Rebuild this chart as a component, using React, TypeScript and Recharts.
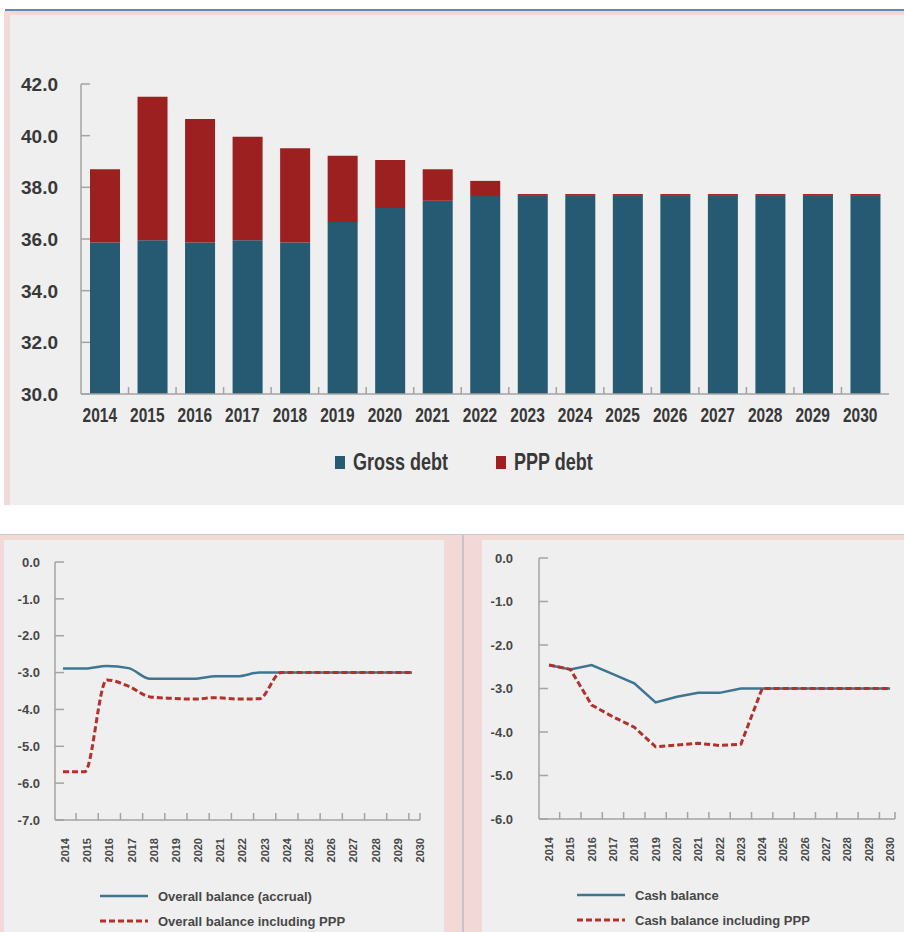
import React from 'react';
import { BarChart, Bar, XAxis, YAxis, LineChart, Line, Legend } from 'recharts';

const years = [2014, 2015, 2016, 2017, 2018, 2019, 2020, 2021, 2022, 2023, 2024, 2025, 2026, 2027, 2028, 2029, 2030];
const grossDebt = [35.86, 35.95, 35.86, 35.95, 35.86, 36.66, 37.2, 37.48, 37.66, 37.67, 37.67, 37.67, 37.67, 37.67, 37.67, 37.67, 37.67];
const pppDebt = [2.84, 5.56, 4.79, 4.01, 3.65, 2.56, 1.86, 1.22, 0.59, 0.07, 0.07, 0.07, 0.07, 0.07, 0.07, 0.07, 0.07];
const debtTicks = [30, 32, 34, 36, 38, 40, 42];

const overallAccrual = [-2.89, -2.89, -2.82, -2.88, -3.17, -3.17, -3.17, -3.1, -3.1, -3.0, -3.0, -3.0, -3.0, -3.0, -3.0, -3.0, -3.0];
const overallInclPpp = [-5.69, -5.69, -3.2, -3.37, -3.66, -3.7, -3.72, -3.68, -3.72, -3.71, -3.0, -3.0, -3.0, -3.0, -3.0, -3.0, -3.0];
const overallTicks = [0, -1, -2, -3, -4, -5, -6, -7];

const cashBalance = [-2.46, -2.56, -2.46, -2.67, -2.88, -3.32, -3.19, -3.1, -3.1, -3.0, -3.0, -3.0, -3.0, -3.0, -3.0, -3.0, -3.0];
const cashInclPpp = [-2.46, -2.56, -3.38, -3.65, -3.89, -4.34, -4.3, -4.26, -4.31, -4.28, -3.0, -3.0, -3.0, -3.0, -3.0, -3.0, -3.0];
const cashTicks = [0, -1, -2, -3, -4, -5, -6];

// tick-mark positions between year labels (Excel style)
const betweenYears = years.slice(0, -1).map((y) => y + 0.5);

const debtData = years.map((year, i) => ({ year, gross: grossDebt[i], ppp: pppDebt[i] }));
const overallData = years.map((year, i) => ({ year, accrual: overallAccrual[i], incl: overallInclPpp[i] }));
const cashData = years.map((year, i) => ({ year, cash: cashBalance[i], incl: cashInclPpp[i] }));

const FONT = '"Liberation Sans", Arial, Helvetica, sans-serif';
const GROSS = '#255a72';
const PPP = '#9c2020';
const LINE_BLUE = '#3e7592';
const LINE_RED = '#b3312d';
const BG = '#efefef';
const PINK = '#f3d8d8';
const AXIS = '#a3a3a3';
const TEXT_TOP = '#383838';
const TEXT_BOT = '#474747';

const LEFT_LAB_DOMAIN: [number, number] = [2013.55, 2030];
const LEFT_LINE_DOMAIN: [number, number] = [2013.633, 2030.367];
const RIGHT_DOMAIN: [number, number] = [2013.53, 2030.23];

function makeYTick(margin: number, fontSize: number, color: string, markLen: number) {
  return (props: any) => {
    const { x, y, payload } = props;
    return (
      <g>
        <text x={x} y={y} dy="0.36em" textAnchor="end" fontFamily={FONT} fontWeight="bold" fontSize={fontSize} fill={color}>
          {Number(payload.value).toFixed(1)}
        </text>
        <line x1={x + margin} x2={x + margin + markLen} y1={y} y2={y} stroke={AXIS} strokeWidth={1.5} />
      </g>
    );
  };
}

function makeTopXTick(margin: number, marks: number[]) {
  return (props: any) => {
    const { x, y, payload } = props;
    const v = payload.value;
    const axisY = y - margin;
    return (
      <g>
        {marks.includes(v) && <line x1={x} x2={x} y1={axisY} y2={axisY - 7} stroke={AXIS} strokeWidth={1.5} />}
        {years.includes(v) && (
          <text
            transform={`translate(${x - 5},${y}) scale(1,1.35)`}
            dy="0.72em"
            textAnchor="middle"
            fontFamily={FONT}
            fontWeight="bold"
            fontSize={15.5}
            fill={TEXT_TOP}
          >
            {v}
          </text>
        )}
      </g>
    );
  };
}

function makeRotXTick(margin: number, marks: number[]) {
  return (props: any) => {
    const { x, y, payload } = props;
    const v = payload.value;
    const axisY = y - margin;
    return (
      <g>
        {marks.includes(v) && <line x1={x} x2={x} y1={axisY} y2={axisY - 7} stroke={AXIS} strokeWidth={1.5} />}
        {years.includes(v) && (
          <text
            transform={`translate(${x},${y}) rotate(-90)`}
            dy="0.36em"
            textAnchor="end"
            fontFamily={FONT}
            fontWeight="bold"
            fontSize={11}
            fill={TEXT_BOT}
          >
            {v}
          </text>
        )}
      </g>
    );
  };
}

const topLegend = (props: any) => {
  const payload = props.payload || [];
  return (
    <div style={{ display: 'flex', alignItems: 'center', fontFamily: FONT, fontWeight: 'bold', fontSize: 18, color: TEXT_TOP }}>
      {payload.map((entry: any, i: number) => (
        <div key={i} style={{ display: 'flex', alignItems: 'center', marginLeft: i === 0 ? 0 : 48 }}>
          <span style={{ display: 'inline-block', width: 10, height: 13, background: entry.color }} />
          <span style={{ display: 'inline-block', marginLeft: 8, transform: 'scaleY(1.3)', lineHeight: '20px' }}>{entry.value}</span>
        </div>
      ))}
    </div>
  );
};

const lineLegend = (props: any) => {
  const payload = props.payload || [];
  return (
    <div style={{ fontFamily: FONT, fontWeight: 'bold', fontSize: 13, color: TEXT_BOT }}>
      {payload.map((entry: any, i: number) => {
        const dashed = entry.payload && entry.payload.strokeDasharray;
        return (
          <div key={i} style={{ display: 'flex', alignItems: 'center', height: 18, marginTop: i === 0 ? 0 : 7 }}>
            <svg width={48} height={6} style={{ display: 'block' }}>
              <line x1={0} x2={48} y1={3} y2={3} stroke={entry.color} strokeWidth={dashed ? 3 : 2.5} strokeDasharray={dashed ? '6 3' : undefined} />
            </svg>
            <span style={{ marginLeft: 10, whiteSpace: 'nowrap' }}>{entry.value}</span>
          </div>
        );
      })}
    </div>
  );
};

export default function App() {
  const box = (left: number, top: number, width: number, height: number, background: string) => (
    <div style={{ position: 'absolute', left, top, width, height, background }} />
  );
  return (
    <div style={{ position: 'absolute', left: 0, top: 0, width: 904, height: 932, background: '#ffffff', overflow: 'hidden', fontFamily: FONT }}>
      {/* top panel frame */}
      {box(5, 9, 899, 2, '#5b87c2')}
      {box(4, 11, 900, 4, PINK)}
      {box(4, 11, 6, 494, PINK)}
      {box(10, 15, 894, 490, BG)}

      {/* bottom panels frame */}
      {box(0, 534, 904, 1, '#c9c9c9')}
      {box(0, 535, 904, 5, PINK)}
      {box(0, 535, 4, 397, PINK)}
      {box(4, 540, 440, 392, BG)}
      {box(444, 535, 18, 397, PINK)}
      {box(462, 535, 2, 397, '#c4c4c4')}
      {box(464, 535, 18, 397, PINK)}
      {box(482, 540, 422, 392, BG)}

      <div style={{ position: 'absolute', left: 0, top: 0 }}>
        <BarChart width={904} height={505} data={debtData} margin={{ top: 84, right: 15, bottom: 0, left: 0 }}>
          <XAxis
            type="number"
            dataKey="year"
            domain={[2013.5, 2030.5]}
            ticks={[...years, ...betweenYears]}
            interval={0}
            allowDataOverflow
            tickLine={false}
            tickSize={0}
            tickMargin={13}
            height={111}
            axisLine={{ stroke: AXIS, strokeWidth: 1.5 }}
            tick={makeTopXTick(13, betweenYears)}
          />
          <YAxis
            domain={[30, 42]}
            ticks={debtTicks}
            interval={0}
            allowDataOverflow
            width={81}
            tickLine={false}
            tickSize={0}
            tickMargin={23}
            axisLine={{ stroke: AXIS, strokeWidth: 1.5 }}
            tick={makeYTick(23, 19, TEXT_TOP, 9)}
          />
          <Bar dataKey="gross" name="Gross debt" stackId="d" fill={GROSS} barSize={30} isAnimationActive={false} />
          <Bar dataKey="ppp" name="PPP debt" stackId="d" fill={PPP} barSize={30} isAnimationActive={false} />
          <Legend layout="horizontal" verticalAlign="middle" align="center" wrapperStyle={{ top: 452, left: 335, width: 320 }} content={topLegend} />
        </BarChart>
      </div>

      <div style={{ position: 'absolute', left: 0, top: 535 }}>
        <LineChart width={444} height={397} data={overallData} margin={{ top: 27, right: 24, bottom: 0, left: 0 }}>
          <XAxis xAxisId="line" type="number" dataKey="year" domain={LEFT_LINE_DOMAIN} allowDataOverflow hide />
          <XAxis
            xAxisId="lab"
            type="number"
            dataKey="year"
            domain={LEFT_LAB_DOMAIN}
            ticks={[...betweenYears, ...years]}
            interval={0}
            allowDataOverflow
            tickLine={false}
            tickSize={0}
            tickMargin={18}
            height={112}
            axisLine={{ stroke: AXIS, strokeWidth: 1.5 }}
            tick={makeRotXTick(18, [...betweenYears, 2030])}
          />
          <YAxis
            domain={[-7, 0]}
            ticks={overallTicks}
            interval={0}
            allowDataOverflow
            width={55}
            tickLine={false}
            tickSize={0}
            tickMargin={15}
            axisLine={{ stroke: AXIS, strokeWidth: 1.5 }}
            tick={makeYTick(15, 13, TEXT_BOT, 9)}
          />
          <Line xAxisId="line" type="monotone" dataKey="accrual" name="Overall balance (accrual)" stroke={LINE_BLUE} strokeWidth={2.5} dot={false} activeDot={false} isAnimationActive={false} />
          <Line xAxisId="line" type="monotone" dataKey="incl" name="Overall balance including PPP" stroke={LINE_RED} strokeWidth={3} strokeDasharray="6 3" dot={false} activeDot={false} isAnimationActive={false} />
          <Legend layout="horizontal" verticalAlign="middle" align="center" wrapperStyle={{ top: 352, left: 100, width: 330 }} content={lineLegend} />
        </LineChart>
      </div>

      <div style={{ position: 'absolute', left: 482, top: 535 }}>
        <LineChart width={422} height={397} data={cashData} margin={{ top: 23, right: 9, bottom: 0, left: 0 }}>
          <XAxis
            type="number"
            dataKey="year"
            domain={RIGHT_DOMAIN}
            ticks={[...betweenYears, ...years, RIGHT_DOMAIN[1]]}
            interval={0}
            allowDataOverflow
            tickLine={false}
            tickSize={0}
            tickMargin={18}
            height={113}
            axisLine={{ stroke: AXIS, strokeWidth: 1.5 }}
            tick={makeRotXTick(18, [...betweenYears, RIGHT_DOMAIN[1]])}
          />
          <YAxis
            domain={[-6, 0]}
            ticks={cashTicks}
            interval={0}
            allowDataOverflow
            width={57}
            tickLine={false}
            tickSize={0}
            tickMargin={26}
            axisLine={{ stroke: AXIS, strokeWidth: 1.5 }}
            tick={makeYTick(26, 13, TEXT_BOT, 9)}
          />
          <Line type="linear" dataKey="cash" name="Cash balance" stroke={LINE_BLUE} strokeWidth={2.5} dot={false} activeDot={false} isAnimationActive={false} />
          <Line type="linear" dataKey="incl" name="Cash balance including PPP" stroke={LINE_RED} strokeWidth={3} strokeDasharray="6 3" dot={false} activeDot={false} isAnimationActive={false} />
          <Legend layout="horizontal" verticalAlign="middle" align="center" wrapperStyle={{ top: 351, left: 95, width: 320 }} content={lineLegend} />
        </LineChart>
      </div>
    </div>
  );
}
